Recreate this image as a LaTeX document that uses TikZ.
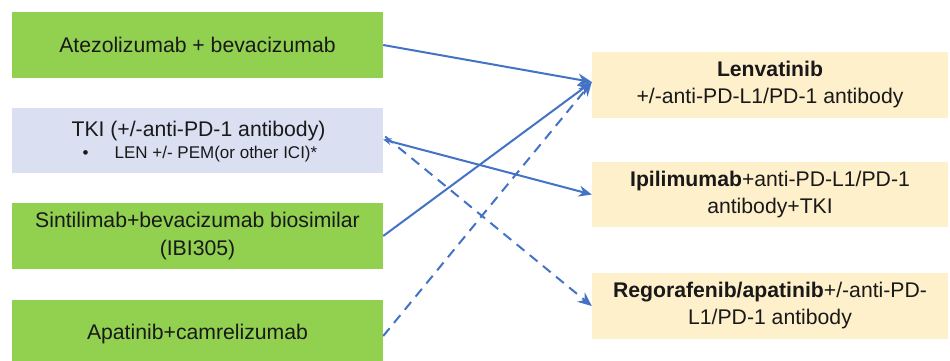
\documentclass[tikz,border=0pt]{standalone}
\usepackage{fontspec}
\setmainfont{Liberation Sans}
\usetikzlibrary{arrows.meta}
\definecolor{boxgreen}{HTML}{92D050}
\definecolor{boxlav}{HTML}{DAE0F2}
\definecolor{boxtan}{HTML}{FFF0CC}
\definecolor{arrowblue}{HTML}{4472C4}
\tikzset{
  leftbox/.style={rectangle, fill=boxgreen, minimum width=371pt, minimum height=66pt, inner sep=0pt, align=center, font=\fontsize{21.2}{28}\selectfont, text=black!90},
  rightbox/.style={rectangle, fill=boxtan, minimum width=356pt, minimum height=66pt, inner sep=0pt, align=center, font=\fontsize{21.2}{27}\selectfont, text=black!90},
  conn/.style={draw=arrowblue, line width=2pt, -{Stealth[length=14pt,width=12pt]}},
  dconn/.style={conn, dash pattern=on 10pt off 7pt},
}
\begin{document}
\begin{tikzpicture}[x=1pt,y=-1pt]
\useasboundingbox (0,0) rectangle (950,360);
\clip (0,0) rectangle (950,360);
\fill[white] (0,0) rectangle (950,360);
% left boxes
\node[leftbox] (atezo) at (197.5,45) {Atezolizumab + bevacizumab};
\node[leftbox, fill=boxlav, minimum height=65pt] (tki) at (197.5,140.5) {};
\node[font=\fontsize{21.2}{24}\selectfont, text=black!90, inner sep=0pt] (tkit) at (198.5,131) {TKI (+/-anti-PD-1 antibody)};
\node[font=\fontsize{17}{20}\selectfont, text=black!90, inner sep=0pt] (tkib) at (200,154) {\textbullet\hspace{26pt}LEN +/- PEM(or other ICI)*};
\node[leftbox] (sinti) at (197.5,236) {Sintilimab+bevacizumab biosimilar\\(IBI305)};
\node[leftbox, minimum height=68pt] (apat) at (197.5,334) {Apatinib+camrelizumab};
% right boxes
\node[rightbox] (lenv) at (770,85) {\textbf{Lenvatinib}\\+/-anti-PD-L1/PD-1 antibody};
\node[rightbox, minimum height=65pt] (ipi) at (770,194.5) {\textbf{Ipilimumab}+anti-PD-L1/PD-1\\antibody+TKI};
\node[rightbox] (rego) at (770,306) {\textbf{Regorafenib/apatinib}+/-anti-PD-\\L1/PD-1 antibody};
% connectors
\coordinate (lenin) at ([yshift=3pt]lenv.west);
\draw[conn] (atezo.east) -- (lenin);
\draw[conn] (sinti.east) -- (lenin);
\draw[dconn] ([yshift=-2pt]apat.east) -- (lenin);
\draw[conn, {Stealth[length=8pt,width=7pt,open]}-{Stealth[length=13pt,width=11pt]}] ([yshift=1pt]tki.east) -- (ipi.west);
\draw[dconn] ([xshift=2pt,yshift=4pt]tki.east) -- (rego.west);
\end{tikzpicture}
\end{document}
